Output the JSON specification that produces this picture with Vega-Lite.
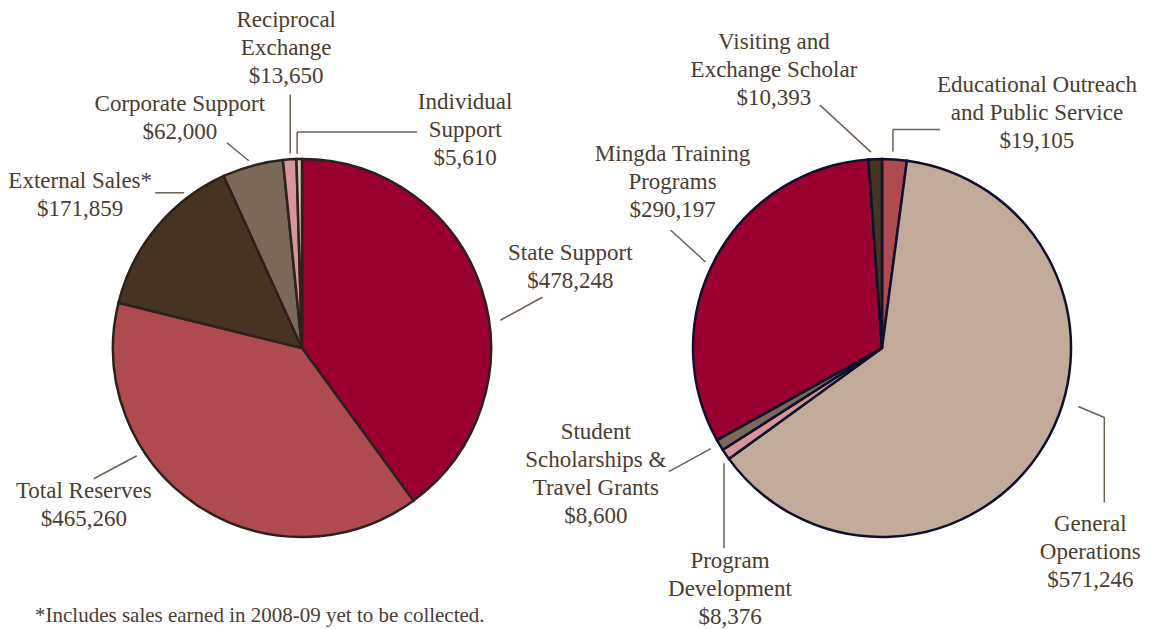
{
  "$schema": "https://vega.github.io/schema/vega-lite/v6.json",
  "background": "white",
  "padding": {"left": 8, "top": 9, "right": 2, "bottom": 0},
  "spacing": 40,
  "bounds": "flush",
  "resolve": {"scale": {"color": "independent"}},
  "config": {
    "view": {"stroke": null},
    "font": "Liberation Serif",
    "text": {"font": "Liberation Serif", "fontSize": 23, "color": "#4b3c30", "align": "center", "baseline": "middle", "lineBreak": "\n", "lineHeight": 28},
    "rule": {"color": "#6e5f52", "strokeWidth": 1.5}
  },
  "datasets": {
    "rows": [
      {"pie": "revenue", "item": "State Support", "amount": 478248},
      {"pie": "revenue", "item": "Total Reserves", "amount": 465260},
      {"pie": "revenue", "item": "External Sales*", "amount": 171859},
      {"pie": "revenue", "item": "Corporate Support", "amount": 62000},
      {"pie": "revenue", "item": "Reciprocal\nExchange", "amount": 13650},
      {"pie": "revenue", "item": "Individual\nSupport", "amount": 5610},
      {"pie": "expenses", "item": "Educational Outreach\nand Public Service", "amount": 19105},
      {"pie": "expenses", "item": "General\nOperations", "amount": 571246},
      {"pie": "expenses", "item": "Program\nDevelopment", "amount": 8376},
      {"pie": "expenses", "item": "Student\nScholarships &\nTravel Grants", "amount": 8600},
      {"pie": "expenses", "item": "Mingda Training\nPrograms", "amount": 290197},
      {"pie": "expenses", "item": "Visiting and\nExchange Scholar", "amount": 10393}
    ]
  },
  "hconcat": [
    {
      "width": 540,
      "height": 520,
      "title": {"text": "*Includes sales earned in 2008-09 yet to be collected.", "orient": "bottom", "anchor": "start", "frame": "group", "offset": -3, "dx": 3, "baseline": "top", "font": "Liberation Serif", "fontSize": 21, "fontWeight": "normal", "color": "#4b3c30"},
      "data": {"name": "rows"},
      "transform": [
        {"filter": {"field": "pie", "equal": "revenue"}},
        {"stack": "amount", "groupby": [], "offset": "normalize", "as": ["s0", "s1"]},
        {"calculate": "196*sin((datum.s0+datum.s1)*PI)", "as": "ex"},
        {"calculate": "196*cos((datum.s0+datum.s1)*PI)", "as": "ey"},
        {"calculate": "datum.item + '\\n' + format(datum.amount, '$,')", "as": "label"}
      ],
      "layer": [
        {
          "mark": {"type": "arc", "radius": 189, "stroke": "#2a221c", "strokeWidth": 2.5},
          "encoding": {
            "theta": {"field": "s0", "type": "quantitative", "scale": {"domain": [0, 1]}},
            "theta2": {"field": "s1"},
            "color": {"field": "item", "type": "nominal", "legend": null,
              "scale": {"domain": ["State Support", "Total Reserves", "External Sales*", "Corporate Support", "Reciprocal\nExchange", "Individual\nSupport"],
                        "range": ["#990030", "#af4a50", "#463423", "#7a6859", "#d89498", "#d8c6b5"]}}
          }
        },
        {
          "transform": [{"filter": {"field": "item", "equal": "State Support"}}],
          "layer": [
            {"mark": {"type": "rule", "xOffset": 12, "yOffset": 33, "x2Offset": 54, "y2Offset": 10},
             "encoding": {"x": {"field": "ex", "type": "quantitative", "scale": {"domain": [-270, 270], "nice": false, "zero": false}, "axis": null}, "y": {"field": "ey", "type": "quantitative", "scale": {"domain": [-260, 260], "nice": false, "zero": false}, "axis": null}, "x2": {"field": "ex"}, "y2": {"field": "ey"}}},
            {"mark": {"type": "text", "dx": 82, "dy": -34},
             "encoding": {"x": {"field": "ex", "type": "quantitative", "axis": null}, "y": {"field": "ey", "type": "quantitative", "axis": null}, "text": {"field": "label"}}}
          ]
        },
        {
          "transform": [{"filter": {"field": "item", "equal": "Total Reserves"}}],
          "layer": [
            {"mark": {"type": "rule", "xOffset": -56, "yOffset": -55, "x2Offset": -99, "y2Offset": -32},
             "encoding": {"x": {"field": "ex", "type": "quantitative", "axis": null}, "y": {"field": "ey", "type": "quantitative", "axis": null}, "x2": {"field": "ex"}, "y2": {"field": "ey"}}},
            {"mark": {"type": "text", "dx": -109, "dy": -20},
             "encoding": {"x": {"field": "ex", "type": "quantitative", "axis": null}, "y": {"field": "ey", "type": "quantitative", "axis": null}, "text": {"field": "label"}}}
          ]
        },
        {
          "transform": [{"filter": {"field": "item", "equal": "External Sales*"}}],
          "layer": [
            {"mark": {"type": "rule", "xOffset": 33, "yOffset": -30, "x2Offset": 4, "y2Offset": -30},
             "encoding": {"x": {"field": "ex", "type": "quantitative", "axis": null}, "y": {"field": "ey", "type": "quantitative", "axis": null}, "x2": {"field": "ex"}, "y2": {"field": "ey"}}},
            {"mark": {"type": "text", "dx": -71, "dy": -42},
             "encoding": {"x": {"field": "ex", "type": "quantitative", "axis": null}, "y": {"field": "ey", "type": "quantitative", "axis": null}, "text": {"field": "label"}}}
          ]
        },
        {
          "transform": [{"filter": {"field": "item", "equal": "Corporate Support"}}],
          "layer": [
            {"mark": {"type": "rule", "xOffset": -2, "yOffset": 2, "x2Offset": -24, "y2Offset": -16},
             "encoding": {"x": {"field": "ex", "type": "quantitative", "axis": null}, "y": {"field": "ey", "type": "quantitative", "axis": null}, "x2": {"field": "ex"}, "y2": {"field": "ey"}}},
            {"mark": {"type": "text", "dx": -71, "dy": -55},
             "encoding": {"x": {"field": "ex", "type": "quantitative", "axis": null}, "y": {"field": "ey", "type": "quantitative", "axis": null}, "text": {"field": "label"}}}
          ]
        },
        {
          "transform": [{"filter": {"field": "item", "equal": "Reciprocal\nExchange"}}],
          "layer": [
            {"mark": {"type": "rule", "xOffset": 1, "yOffset": 1, "x2Offset": 1, "y2Offset": -58},
             "encoding": {"x": {"field": "ex", "type": "quantitative", "axis": null}, "y": {"field": "ey", "type": "quantitative", "axis": null}, "x2": {"field": "ex"}, "y2": {"field": "ey"}}},
            {"mark": {"type": "text", "dx": -3, "dy": -132},
             "encoding": {"x": {"field": "ex", "type": "quantitative", "axis": null}, "y": {"field": "ey", "type": "quantitative", "axis": null}, "text": {"field": "label"}}}
          ]
        },
        {
          "transform": [{"filter": {"field": "item", "equal": "Individual\nSupport"}}],
          "layer": [
            {"mark": {"type": "rule", "xOffset": -2, "yOffset": 2, "x2Offset": -2, "y2Offset": -20},
             "encoding": {"x": {"field": "ex", "type": "quantitative", "axis": null}, "y": {"field": "ey", "type": "quantitative", "axis": null}, "x2": {"field": "ex"}, "y2": {"field": "ey"}}},
            {"mark": {"type": "rule", "xOffset": -2, "yOffset": -20, "x2Offset": 118, "y2Offset": -20},
             "encoding": {"x": {"field": "ex", "type": "quantitative", "axis": null}, "y": {"field": "ey", "type": "quantitative", "axis": null}, "x2": {"field": "ex"}, "y2": {"field": "ey"}}},
            {"mark": {"type": "text", "dx": 166, "dy": -50},
             "encoding": {"x": {"field": "ex", "type": "quantitative", "axis": null}, "y": {"field": "ey", "type": "quantitative", "axis": null}, "text": {"field": "label"}}}
          ]
        }
      ]
    },
    {
      "width": 540,
      "height": 520,
      "data": {"name": "rows"},
      "transform": [
        {"filter": {"field": "pie", "equal": "expenses"}},
        {"stack": "amount", "groupby": [], "offset": "normalize", "as": ["s0", "s1"]},
        {"calculate": "196*sin((datum.s0+datum.s1)*PI)", "as": "ex"},
        {"calculate": "196*cos((datum.s0+datum.s1)*PI)", "as": "ey"},
        {"calculate": "datum.item + '\\n' + format(datum.amount, '$,')", "as": "label"}
      ],
      "layer": [
        {
          "mark": {"type": "arc", "radius": 189, "stroke": "#10102c", "strokeWidth": 2.5},
          "encoding": {
            "theta": {"field": "s0", "type": "quantitative", "scale": {"domain": [0, 1]}},
            "theta2": {"field": "s1"},
            "color": {"field": "item", "type": "nominal", "legend": null,
              "scale": {"domain": ["Educational Outreach\nand Public Service", "General\nOperations", "Program\nDevelopment", "Student\nScholarships &\nTravel Grants", "Mingda Training\nPrograms", "Visiting and\nExchange Scholar"],
                        "range": ["#af4a50", "#c2ab9b", "#d89498", "#7a6859", "#990030", "#463423"]}}
          }
        },
        {
          "transform": [{"filter": {"field": "item", "equal": "Educational Outreach\nand Public Service"}}],
          "layer": [
            {"mark": {"type": "rule", "xOffset": -2, "yOffset": -1, "x2Offset": -2, "y2Offset": -23},
             "encoding": {"x": {"field": "ex", "type": "quantitative", "scale": {"domain": [-270, 270], "nice": false, "zero": false}, "axis": null}, "y": {"field": "ey", "type": "quantitative", "scale": {"domain": [-260, 260], "nice": false, "zero": false}, "axis": null}, "x2": {"field": "ex"}, "y2": {"field": "ey"}}},
            {"mark": {"type": "rule", "xOffset": -2, "yOffset": -23, "x2Offset": 45, "y2Offset": -23},
             "encoding": {"x": {"field": "ex", "type": "quantitative", "axis": null}, "y": {"field": "ey", "type": "quantitative", "axis": null}, "x2": {"field": "ex"}, "y2": {"field": "ey"}}},
            {"mark": {"type": "text", "dx": 142, "dy": -67},
             "encoding": {"x": {"field": "ex", "type": "quantitative", "axis": null}, "y": {"field": "ey", "type": "quantitative", "axis": null}, "text": {"field": "label"}}}
          ]
        },
        {
          "transform": [{"filter": {"field": "item", "equal": "General\nOperations"}}],
          "layer": [
            {"mark": {"type": "rule", "xOffset": 28, "yOffset": -42, "x2Offset": 54, "y2Offset": -31},
             "encoding": {"x": {"field": "ex", "type": "quantitative", "axis": null}, "y": {"field": "ey", "type": "quantitative", "axis": null}, "x2": {"field": "ex"}, "y2": {"field": "ey"}}},
            {"mark": {"type": "rule", "xOffset": 54, "yOffset": -31, "x2Offset": 54, "y2Offset": 54},
             "encoding": {"x": {"field": "ex", "type": "quantitative", "axis": null}, "y": {"field": "ey", "type": "quantitative", "axis": null}, "x2": {"field": "ex"}, "y2": {"field": "ey"}}},
            {"mark": {"type": "text", "dx": 40, "dy": 76},
             "encoding": {"x": {"field": "ex", "type": "quantitative", "axis": null}, "y": {"field": "ey", "type": "quantitative", "axis": null}, "text": {"field": "label"}}}
          ]
        },
        {
          "transform": [{"filter": {"field": "item", "equal": "Program\nDevelopment"}}],
          "layer": [
            {"mark": {"type": "rule", "xOffset": 4, "yOffset": 5, "x2Offset": 4, "y2Offset": 90},
             "encoding": {"x": {"field": "ex", "type": "quantitative", "axis": null}, "y": {"field": "ey", "type": "quantitative", "axis": null}, "x2": {"field": "ex"}, "y2": {"field": "ey"}}},
            {"mark": {"type": "text", "dx": 10, "dy": 103},
             "encoding": {"x": {"field": "ex", "type": "quantitative", "axis": null}, "y": {"field": "ey", "type": "quantitative", "axis": null}, "text": {"field": "label"}}}
          ]
        },
        {
          "transform": [{"filter": {"field": "item", "equal": "Student\nScholarships &\nTravel Grants"}}],
          "layer": [
            {"mark": {"type": "rule", "xOffset": -3, "yOffset": 0, "x2Offset": -45, "y2Offset": 23},
             "encoding": {"x": {"field": "ex", "type": "quantitative", "axis": null}, "y": {"field": "ey", "type": "quantitative", "axis": null}, "x2": {"field": "ex"}, "y2": {"field": "ey"}}},
            {"mark": {"type": "text", "dx": -118, "dy": -17},
             "encoding": {"x": {"field": "ex", "type": "quantitative", "axis": null}, "y": {"field": "ey", "type": "quantitative", "axis": null}, "text": {"field": "label"}}}
          ]
        },
        {
          "transform": [{"filter": {"field": "item", "equal": "Mingda Training\nPrograms"}}],
          "layer": [
            {"mark": {"type": "rule", "xOffset": -4, "yOffset": 7, "x2Offset": -39, "y2Offset": -25},
             "encoding": {"x": {"field": "ex", "type": "quantitative", "axis": null}, "y": {"field": "ey", "type": "quantitative", "axis": null}, "x2": {"field": "ex"}, "y2": {"field": "ey"}}},
            {"mark": {"type": "text", "dx": -37, "dy": -101},
             "encoding": {"x": {"field": "ex", "type": "quantitative", "axis": null}, "y": {"field": "ey", "type": "quantitative", "axis": null}, "text": {"field": "label"}}}
          ]
        },
        {
          "transform": [{"filter": {"field": "item", "equal": "Visiting and\nExchange Scholar"}}],
          "layer": [
            {"mark": {"type": "rule", "xOffset": -4, "yOffset": 0, "x2Offset": -55, "y2Offset": -47},
             "encoding": {"x": {"field": "ex", "type": "quantitative", "axis": null}, "y": {"field": "ey", "type": "quantitative", "axis": null}, "x2": {"field": "ex"}, "y2": {"field": "ey"}}},
            {"mark": {"type": "text", "dx": -101, "dy": -110},
             "encoding": {"x": {"field": "ex", "type": "quantitative", "axis": null}, "y": {"field": "ey", "type": "quantitative", "axis": null}, "text": {"field": "label"}}}
          ]
        }
      ]
    }
  ]
}
